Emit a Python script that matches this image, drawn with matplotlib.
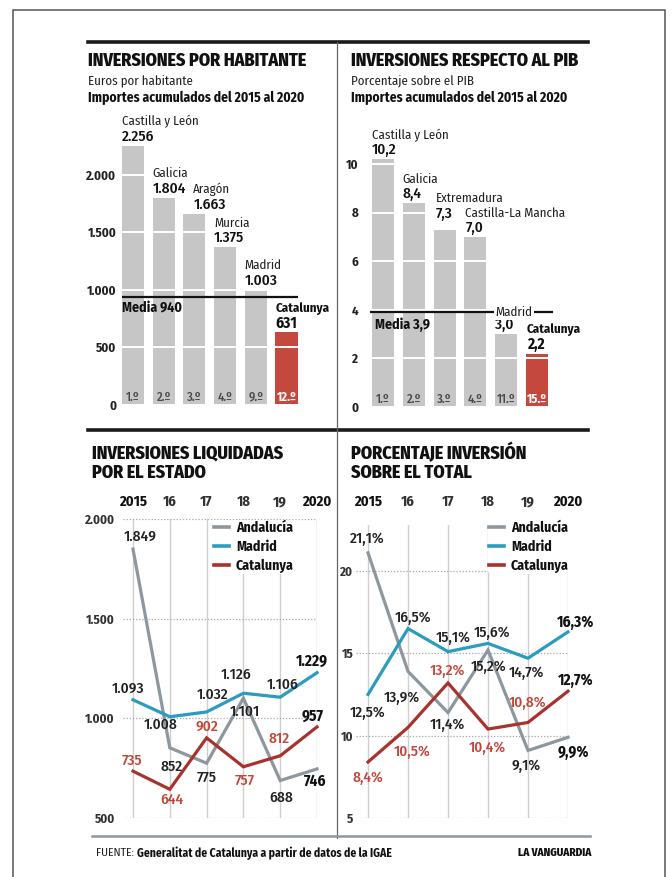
import matplotlib
matplotlib.use("Agg")
import matplotlib.pyplot as plt

plt.rcParams['font.family'] = ['Fira Sans Condensed', 'Roboto Condensed', 'PT Sans Narrow',
                               'Liberation Sans Narrow', 'DejaVu Sans']

# ---------------- data ----------------
hab_regions = ['Castilla y León', 'Galicia', 'Aragón', 'Murcia', 'Madrid', 'Catalunya']
hab_values = [2256, 1804, 1663, 1375, 1003, 631]
hab_ranks = ['1.º', '2.º', '3.º', '4.º', '9.º', '12.º']
hab_mean = 940
hab_ticks = [0, 500, 1000, 1500, 2000]

pib_regions = ['Castilla y León', 'Galicia', 'Extremadura', 'Castilla-La Mancha', 'Madrid', 'Catalunya']
pib_values = [10.2, 8.4, 7.3, 7.0, 3.0, 2.2]
pib_ranks = ['1.º', '2.º', '3.º', '4.º', '11.º', '15.º']
pib_mean = 3.9
pib_ticks = [0, 2, 4, 6, 8, 10]

years = [2015, 2016, 2017, 2018, 2019, 2020]
year_labels = ['2015', '16', '17', '18', '19', '2020']
series_names = ['Andalucía', 'Madrid', 'Catalunya']
liq_andalucia = [1849, 852, 775, 1101, 688, 746]
liq_madrid = [1093, 1008, 1032, 1126, 1106, 1229]
liq_catalunya = [735, 644, 902, 757, 812, 957]
liq_ticks = [500, 1000, 1500, 2000]
pct_andalucia = [21.1, 13.9, 11.4, 15.2, 9.1, 9.9]
pct_madrid = [12.5, 16.5, 15.1, 15.6, 14.7, 16.3]
pct_catalunya = [8.4, 10.5, 13.2, 10.4, 10.8, 12.7]
pct_ticks = [5, 10, 15, 20]

# ---------------- styles / positions ----------------
W, H = 672, 877
GRAY_BAR = '#c6c6c6'
RED_BAR = '#c4483e'
LINE_COLORS = {'Andalucía': '#8d979d', 'Madrid': '#2b9cbf', 'Catalunya': '#a8322d'}
LABEL_COLORS = {'Andalucía': '#222222', 'Madrid': '#222222', 'Catalunya': '#c4463a'}
TITLE_KW = dict(fontsize=13, fontweight='heavy', color='#111111', va='center', ha='left')

# label offsets in pixels (dx, dy-down)
liq_offsets = {
    'Andalucía': [(7, -12), (2, 19), (0, 15), (1, 14), (1, 17), (-2, 12)],
    'Madrid': [(-5, -11), (-9, 8), (6, -17), (-7, -18), (2, -12), (-5, -11)],
    'Catalunya': [(-1, -10), (2, 11), (0, -11), (1, 14), (-1, -17), (-4, -11)],
}
pct_offsets = {
    'Andalucía': [(-1, -14), (-6, 26), (-1, 12), (1, 17), (-2, 15), (5, 15)],
    'Madrid': [(0, 18), (5, -11), (5, -14), (4, -11), (-2, 15), (8, -10)],
    'Catalunya': [(0, 16), (4, 24), (-1, -12), (-1, 19), (0, -20), (8, -11)],
}
hab_label_shift = [(0, 0), (0, 0), (10, 0), (0, 0), (0, 0), (0, 0)]
pib_label_shift = [(0, 0), (0, 0), (2, 7), (1, 0), (0, 0), (1, 0)]


def fmt_thousands(v):
    return f"{v:,}".replace(',', '.')


def fmt_dec(v):
    return f"{v:.1f}".replace('.', ',')


def axes_px(fig, l, t, r, b):
    ax = fig.add_axes([l / W, 1 - b / H, (r - l) / W, (b - t) / H])
    ax.set_facecolor('none')
    for s in ax.spines.values():
        s.set_visible(False)
    return ax


fig = plt.figure(figsize=(W / 100, H / 100), dpi=100)
deco = fig.add_axes([0, 0, 1, 1])
deco.set_xlim(0, W)
deco.set_ylim(H, 0)
deco.axis('off')

# frame and rules
deco.plot([13, 13, 665, 665], [H + 5, 10, 10, H + 5], color='#555555', lw=1.1, solid_joinstyle='miter')
deco.plot([88, 588], [42, 42], color='#1a1a1a', lw=2.6)
deco.plot([88, 588], [430, 430], color='#1a1a1a', lw=2.6)
deco.plot([337, 337], [42, 838], color='#666666', lw=0.9)
deco.plot([92, 590], [836, 836], color='#8e979c', lw=1.8)

# titles
deco.text(88, 61, 'INVERSIONES POR HABITANTE', **TITLE_KW)
deco.text(88, 81, 'Euros por habitante', fontsize=9.3, color='#222', va='center')
deco.text(88, 98, 'Importes acumulados del 2015 al 2020', fontsize=9.8, fontweight='bold', color='#111', va='center')
deco.text(351, 61, 'INVERSIONES RESPECTO AL PIB', **TITLE_KW)
deco.text(351, 81, 'Porcentaje sobre el PIB', fontsize=9.3, color='#222', va='center')
deco.text(351, 98, 'Importes acumulados del 2015 al 2020', fontsize=9.8, fontweight='bold', color='#111', va='center')
deco.text(92, 453, 'INVERSIONES LIQUIDADAS', **TITLE_KW)
deco.text(92, 473, 'POR EL ESTADO', **TITLE_KW)
deco.text(351, 453, 'PORCENTAJE INVERSIÓN', **TITLE_KW)
deco.text(351, 473, 'SOBRE EL TOTAL', **TITLE_KW)

# footer
t1 = deco.text(96, 853, 'FUENTE:', fontsize=8.4, color='#222', va='center')
deco.annotate('Generalitat de Catalunya a partir de datos de la IGAE', xy=(1, 0.5), xycoords=t1,
              xytext=(3, 0), textcoords='offset pixels', fontsize=8.4, fontweight='bold',
              color='#111', va='center', ha='left')
deco.text(591, 853, 'LA VANGUARDIA', fontsize=8, fontweight='heavy', color='#111', va='center', ha='right')


# ---------------- bar panels ----------------
def bar_panel(ax, regions, values, ranks, mean, ticks, ticklabels, fmt, shifts, madrid_on_line):
    n = len(values)
    xs = list(range(n))
    colors = [GRAY_BAR] * (n - 1) + [RED_BAR]
    ax.bar(xs, values, width=0.72, color=colors, zorder=1)
    ax.set_yticks(ticks, ticklabels)
    ax.set_xticks([])
    ax.tick_params(axis='y', length=0, pad=2, labelsize=9.3, labelcolor='#222')
    for lab in ax.get_yticklabels():
        lab.set_fontweight('bold')
    ax.grid(axis='y', color='white', lw=1.4)
    ax.set_axisbelow(False)
    for i, (reg, v, rk) in enumerate(zip(regions, values, ranks)):
        last = i == n - 1
        left = i - 0.36
        sx, sy = shifts[i]
        if madrid_on_line and reg == 'Madrid':
            ax.annotate(reg, xy=(left, mean), xytext=(sx, 0), textcoords='offset pixels',
                        ha='left', va='center', fontsize=9.3, color='#222', zorder=5,
                        bbox=dict(boxstyle='square,pad=0.12', fc='white', ec='none'))
        else:
            ax.annotate(reg, xy=(left, v), xytext=(sx, 24 + sy), textcoords='offset pixels',
                        ha='left', va='center', fontsize=9.3,
                        fontweight='bold' if last else 'normal', color='#111' if last else '#222',
                        annotation_clip=False)
        ax.annotate(fmt(v), xy=(left, v), xytext=(sx, 9 + sy), textcoords='offset pixels',
                    ha='left', va='center', fontsize=11,
                    fontweight='bold' if last else 'medium', color='#111',
                    annotation_clip=False)
        ax.annotate(rk, xy=(i, 0), xytext=(0, 8), textcoords='offset pixels', ha='center',
                    va='center', fontsize=9, fontweight='bold' if last else 'medium',
                    color='white' if last else '#4a4a4a')
    return xs


# top-left
ax1 = axes_px(fig, 119, 129, 305, 405)
bar_panel(ax1, hab_regions, hab_values, hab_ranks, hab_mean, hab_ticks,
          [fmt_thousands(t) for t in hab_ticks], fmt_thousands, hab_label_shift, False)
ax1.set_xlim((119 - 133) / 30.7, (305 - 133) / 30.7)
ax1.set_ylim(0, (405 - 129) / 0.115)
ax1.hlines(hab_mean, -0.37, 5.37, color='#111', lw=1.6, zorder=4)
ax1.annotate(f'Media {hab_mean}', xy=(-0.36, hab_mean), xytext=(0, -11), textcoords='offset pixels',
             ha='left', va='center', fontsize=10, fontweight='bold', color='#111', zorder=5)

# top-right
ax2 = axes_px(fig, 361, 152, 560, 407)
bar_panel(ax2, pib_regions, pib_values, pib_ranks, pib_mean, pib_ticks,
          [str(t) for t in pib_ticks], fmt_dec, pib_label_shift, True)
ax2.set_xlim((361 - 383) / 30.8, (560 - 383) / 30.8)
ax2.set_ylim(0, (407 - 152) / 24.3)
ax2.hlines(pib_mean, -0.42, 5.52, color='#111', lw=1.6, zorder=4)
ax2.annotate(f'Media {fmt_dec(pib_mean)}', xy=(-0.27, pib_mean), xytext=(0, -13), textcoords='offset pixels',
             ha='left', va='center', fontsize=10, fontweight='bold', color='#111', zorder=5)


# ---------------- line panels ----------------
def line_panel(ax, series, offsets, fmt, ticks, ticklabels, legend_anchor, xpad):
    for name, vals in series.items():
        ax.plot(years, vals, color=LINE_COLORS[name], lw=2.3, label=name, zorder=3,
                solid_joinstyle='miter', clip_on=False)
        for i, (yr, v) in enumerate(zip(years, vals)):
            last = i == len(vals) - 1
            dx, dy = offsets[name][i]
            ax.annotate(fmt(v), xy=(yr, v), xytext=(dx, -dy), textcoords='offset pixels',
                        ha='center', va='center', fontsize=11,
                        fontweight='bold' if last else 'medium',
                        color='#111' if last else LABEL_COLORS[name], zorder=6,
                        annotation_clip=False)
    ax.set_xticks(years, year_labels)
    ax.xaxis.tick_top()
    ax.tick_params(axis='x', length=0, pad=xpad, labelsize=10.5)
    for lab in ax.get_xticklabels():
        lab.set_fontweight('bold')
        lab.set_color('#111' if lab.get_text() in ('2015', '2020') else '#333')
    ax.set_yticks(ticks, ticklabels)
    ax.tick_params(axis='y', length=0, pad=2, labelsize=9.3, labelcolor='#333')
    for lab in ax.get_yticklabels():
        lab.set_fontweight('bold')
    ax.grid(axis='x', color='#cfcfcf', lw=1.0, ls='-')
    ax.grid(axis='y', color='#a8a8a8', lw=0.9, ls=(0, (1, 1.5)))
    ax.set_axisbelow(True)
    leg = ax.legend(loc='upper left', bbox_to_anchor=(legend_anchor[0] / W, 1 - legend_anchor[1] / H),
                    bbox_transform=fig.transFigure, frameon=True, borderpad=0.05, borderaxespad=0,
                    handlelength=1.1, handletextpad=0.5, labelspacing=0.35,
                    prop=dict(size=10, weight='bold'))
    leg.get_frame().set_facecolor('white')
    leg.get_frame().set_edgecolor('none')
    leg.get_frame().set_alpha(1)
    leg.set_zorder(7)
    for t in leg.get_texts():
        t.set_color('#111')
    for h in leg.legend_handles:
        h.set_linewidth(2.6)


ax3 = axes_px(fig, 123, 519, 317, 818)
ax3.set_xlim(2015 - 10 / 36.8, 2020)
ax3.set_ylim(500, 2000)
line_panel(ax3, {'Andalucía': liq_andalucia, 'Madrid': liq_madrid, 'Catalunya': liq_catalunya},
           liq_offsets, fmt_thousands, liq_ticks, [fmt_thousands(t) for t in liq_ticks], (213, 520), 7)
ax3.tick_params(axis='y', pad=6)

ax4 = axes_px(fig, 356, 525, 568, 818)
ax4.set_xlim(2015 - 12 / 40, 2020)
ax4.set_ylim(5, 5 + (818 - 525) / 16.47)
line_panel(ax4, {'Andalucía': pct_andalucia, 'Madrid': pct_madrid, 'Catalunya': pct_catalunya},
           pct_offsets, lambda v: fmt_dec(v) + '%', pct_ticks, [str(t) for t in pct_ticks], (488, 520), 11.5)

fig.savefig('out.png', dpi=100)
